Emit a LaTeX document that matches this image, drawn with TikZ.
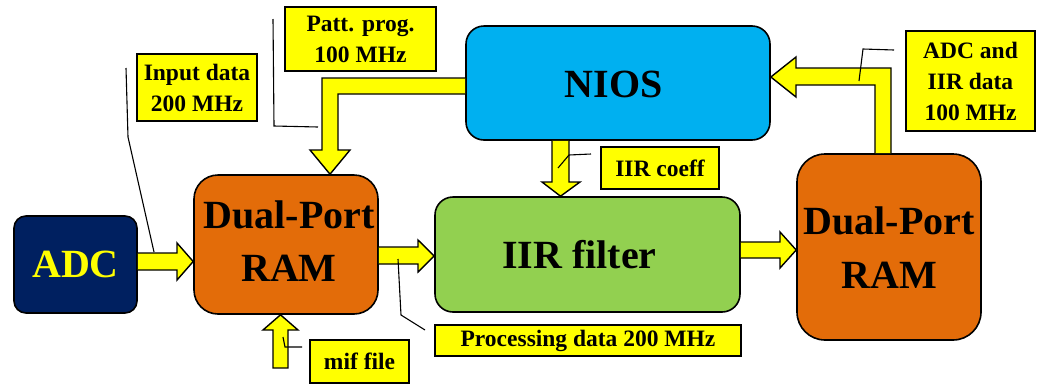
\documentclass[tikz,border=0pt]{standalone}
\usepackage{fontspec}
\setmainfont{Liberation Serif}
\usetikzlibrary{calc}
\definecolor{navy}{HTML}{002060}
\definecolor{ramorange}{HTML}{E36C09}
\definecolor{iirgreen}{HTML}{92D050}
\definecolor{niosblue}{HTML}{00B0F0}
\definecolor{lblyellow}{HTML}{FFFF00}
\tikzset{
  blk/.style={draw=black, line width=1.6pt, inner sep=0pt, align=center,
    font=\fontsize{40}{53}\selectfont\bfseries},
  lbl/.style={draw=black, fill=lblyellow, line width=1.5pt, inner sep=0pt, align=center,
    font=\fontsize{23.5}{31}\selectfont\bfseries},
  fat/.style={draw=black, fill=lblyellow, line width=1.4pt, line join=miter},
  leader/.style={draw=black, line width=1.1pt},
}
\begin{document}
\begin{tikzpicture}[x=1pt,y=-1pt]
\useasboundingbox (0,0) rectangle (1038,389);
\fill[white] (0,0) rectangle (1038,389);
% blocks
\node[blk, fill=navy, text=lblyellow, rounded corners=12pt, minimum width=123pt, minimum height=97pt] (adc) at (75.5,264.5) {ADC};
\node[blk, fill=ramorange, rounded corners=24pt, minimum width=184pt, minimum height=139pt] (ramA) at (286,244.5) {};
\node[font=\fontsize{40}{53}\selectfont\bfseries, align=center] at (289,241.5) {Dual-Port\\RAM};
\node[blk, fill=iirgreen, rounded corners=18pt, minimum width=305pt, minimum height=115pt] (iir) at (587.5,254.5) {};
\node[font=\fontsize{40}{53}\selectfont\bfseries] at (579.5,254.5) {IIR filter};
\node[blk, fill=niosblue, rounded corners=18pt, minimum width=304pt, minimum height=114pt] (nios) at (618,83) {};
\node[font=\fontsize{40}{53}\selectfont\bfseries] at (613.5,84) {NIOS};
\node[blk, fill=ramorange, rounded corners=28pt, minimum width=184pt, minimum height=186pt] (ramB) at (889,247) {};
\node[font=\fontsize{40}{54}\selectfont\bfseries, align=center] at (889,247.5) {Dual-Port\\RAM};
% labels
\node[lbl, minimum width=120pt, minimum height=67pt] (linput) at (197,87.5) {Input data\\200 MHz};
\node[lbl, minimum width=151pt, minimum height=64pt] (lpatt) at (360.5,39) {Patt. prog.\\100 MHz};
\node[lbl, minimum width=129pt, minimum height=100pt] (ladc) at (970.5,81) {ADC and\\IIR data\\100 MHz};
\node[lbl, minimum width=118pt, minimum height=42pt] (lcoeff) at (660,168) {IIR coeff};
\node[lbl, minimum width=99pt, minimum height=43pt] (lmif) at (359.5,361.5) {mif file};
\node[lbl, minimum width=306pt, minimum height=31pt] (lproc) at (588,340.5) {Processing data 200 MHz};
% fat arrows
% ADC -> RAM A
\draw[fat] (adc.east |- 0,253) -- (177,253) -- (177,243) -- (ramA.west |- 0,261.5) -- (177,280) -- (177,270) -- (adc.east |- 0,270);
% RAM A -> IIR
\draw[fat] (ramA.east |- 0,247) -- (418,247) -- (418,240) -- (iir.west |- 0,256) -- (418,272) -- (418,264) -- (ramA.east |- 0,264);
% IIR -> RAM B
\draw[fat] (iir.east |- 0,242) -- (780,242) -- (780,232) -- (ramB.west |- 0,250) -- (780,268) -- (780,258) -- (iir.east |- 0,258);
% NIOS -> RAM A (elbow)
\draw[fat] (nios.west |- 0,78) -- (322,78) -- (322,150) -- (310,150) -- (ramA.north -| 330,0) -- (350,150) -- (338,150) -- (338,94) -- (nios.west |- 0,94);
% NIOS -> IIR
\draw[fat] (nios.south -| 552,0) -- (552,182) -- (542,182) -- (iir.north -| 560.5,0) -- (580,182) -- (569,182) -- (nios.south -| 569,0);
% RAM B -> NIOS (elbow)
\draw[fat] (ramB.north -| 875,0) -- (875,85) -- (796,85) -- (796,97) -- (nios.east |- 0,77) -- (796,57) -- (796,68) -- (891,68) -- (ramB.north -| 891,0);
% mif file -> RAM A
\coordinate (mifsrc) at (273,368);
\draw[fat] (mifsrc) -- (273,330) -- (263,330) -- (ramA.south -| 280.5,0) -- (298,330) -- (288,330) -- (288,368) -- cycle;
% leader lines
\coordinate (inA) at (126,68);
\coordinate (inB) at (154,252);
\draw[leader] (inA) -- (128,137) -- (inB);
\coordinate (paA) at (273,19);
\coordinate (paB) at (318,127);
\draw[leader] (paA) -- (274,126) -- (paB);
\coordinate (adA) at (894,50);
\coordinate (adB) at (859,81);
\draw[leader] (adA) -- (863,49) -- (adB);
\coordinate (coA) at (591,154);
\coordinate (coB) at (558,168);
\draw[leader] (coA) -- (569,155) -- (coB);
\coordinate (miA) at (302,347);
\coordinate (miB) at (283,337);
\draw[leader] (miA) -- (285,347) -- (miB);
\coordinate (prA) at (425,330);
\coordinate (prB) at (398,259);
\draw[leader] (prA) -- (401,315) -- (prB);
\end{tikzpicture}
\end{document}
